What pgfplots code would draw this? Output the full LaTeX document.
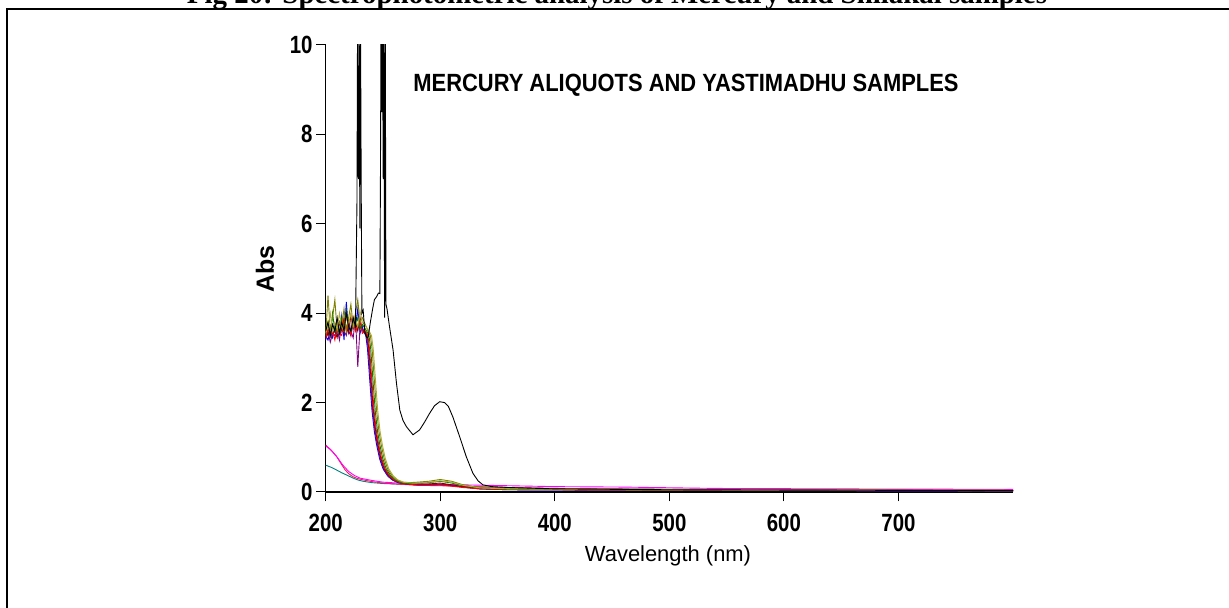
\documentclass[border=0pt]{standalone}
\usepackage{fontspec}
\usepackage{pgfplots}
\pgfplotsset{compat=1.18}
\setmainfont{Liberation Sans}
\newfontfamily\narrow[FakeStretch=0.82]{Liberation Sans}
\newfontfamily\titlefont[FakeStretch=0.88]{Liberation Sans}
\newfontfamily\capfont{Liberation Serif}
\definecolor{cblue}{RGB}{0,0,255}
\definecolor{cpurple}{RGB}{128,0,128}
\definecolor{cmaroon}{RGB}{128,0,0}
\definecolor{cred}{RGB}{255,0,0}
\definecolor{cgreen}{RGB}{0,128,0}
\definecolor{colive}{RGB}{128,128,0}
\definecolor{ckhaki}{RGB}{180,170,60}
\definecolor{ccrimson}{RGB}{240,30,80}
\definecolor{cmagenta}{RGB}{255,0,255}
\definecolor{cteal}{RGB}{0,128,128}
\begin{document}
\begin{tikzpicture}
\useasboundingbox (0,0) rectangle (1229bp,608bp);
\draw[line width=2bp] (6.7bp,0) -- (6.7bp,599bp) -- (1229bp,599bp);
\node[anchor=base, inner sep=0pt, font=\capfont\bfseries\fontsize{29}{29}\selectfont] at (617bp,604bp) {Fig 20: Spectrophotometric analysis of Mercury and Shilakal samples};
\begin{axis}[
  at={(325.7bp,116bp)}, anchor=south west,
  scale only axis, width=687.3bp, height=447bp,
  xmin=200, xmax=800, ymin=0, ymax=10,
  axis x line=bottom, axis y line=left,
  axis line style={line width=1.3bp, -},
  xtick={200,300,400,500,600,700}, ytick={0,2,4,6,8,10},
  tick align=outside, major tick length=9.5bp,
  tick style={line width=1bp, black},
  /pgf/number format/assume math mode=true,
  ticklabel style={font=\narrow\bfseries\fontsize{25}{25}\selectfont},
  yticklabel style={anchor=east, inner sep=0pt, xshift=-3.5bp},
  xticklabel style={anchor=north, inner sep=0pt, yshift=-12bp},
  every axis plot/.append style={line width=0.9bp, mark=none},
  clip=true,
]
% teal
\addplot[cteal] table {
200 0.6
205 0.55
209.6 0.49
214 0.43
218.3 0.38
224 0.31
228 0.27
232.7 0.24
240 0.21
250 0.19
270 0.17
300 0.15
340 0.11
400 0.08
500 0.06
800 0.04
};
% crimson
\addplot[ccrimson] table {
200 1.05
203 0.98
206 0.9
209.6 0.79
213 0.65
216.8 0.5
220 0.41
224 0.34
228 0.3
232.7 0.27
241 0.23
250 0.2
260 0.18
280 0.15
300 0.14
330 0.12
360 0.1
400 0.08
500 0.06
600 0.05
800 0.04
};
% magenta
\addplot[cmagenta] table {
200 1.03
205 0.93
210 0.78
215 0.6
220 0.46
225 0.37
230 0.31
240 0.26
250 0.22
270 0.19
300 0.17
340 0.15
400 0.12
460 0.11
540 0.08
700 0.065
800 0.06
};
% blue
\addplot[cblue] table {
200 3.5
202 3.4
204 3.6
206 3.45
208 3.7
210 3.5
212 3.55
214 3.95
216 3.4
218 4.25
220 3.6
222 3.5
224 3.8
226 3.7
228 4.1
230 3.55
232 3.7
233 3.6
235 3.5
236.5 3.2
238.6 2.45
240.5 1.8
242.5 1.35
244.5 1.05
247 0.75
250 0.52
254 0.36
258 0.27
263 0.21
270 0.18
280 0.16
290 0.16
300 0.17
310 0.14
320 0.11
335 0.07
360 0.05
450 0.04
600 0.03
800 0.02
};
% purple
\addplot[cpurple] table {
200 3.4
202 3.6
204 3.35
206 3.55
208 3.5
210 3.65
212 3.4
214 3.75
216 3.6
218 3.5
220 3.85
222 3.6
224 3.45
226 3.9
228 2.8
230 3.7
232 3.65
233.6 3.6
235.6 3.5
237.1 3.2
239.2 2.45
241.1 1.8
243.1 1.35
245.1 1.05
247.6 0.75
250.6 0.52
254.6 0.36
258.6 0.27
263.6 0.21
270.6 0.18
280 0.17
290 0.17
300 0.18
310 0.15
320 0.11
335 0.07
360 0.05
450 0.04
600 0.03
800 0.02
};
% maroon
\addplot[cmaroon] table {
200 3.6
202 3.5
204 3.7
206 3.55
208 3.6
210 3.45
212 3.8
214 3.6
216 3.9
218 3.7
220 3.55
222 3.95
224 3.65
226 3.8
228 3.6
230 3.9
232 3.6
234.2 3.6
236.2 3.5
237.7 3.2
239.8 2.45
241.7 1.8
243.7 1.35
245.7 1.05
248.2 0.75
251.2 0.52
255.2 0.36
259.2 0.27
264.2 0.21
271.2 0.18
280 0.18
290 0.18
300 0.2
310 0.16
320 0.12
335 0.08
360 0.06
450 0.05
600 0.04
800 0.03
};
% red
\addplot[cred] table {
200 3.45
202 3.65
204 3.5
206 3.6
208 3.4
210 3.7
212 3.55
214 3.5
216 3.85
218 3.6
220 3.75
222 3.5
224 3.9
226 3.6
228 3.7
230 3.8
232 3.55
234.8 3.6
236.8 3.5
238.3 3.2
240.4 2.45
242.3 1.8
244.3 1.35
246.3 1.05
248.8 0.75
251.8 0.52
255.8 0.36
259.8 0.27
264.8 0.21
271.8 0.18
280 0.15
290 0.15
300 0.16
310 0.13
320 0.1
335 0.07
360 0.06
450 0.05
600 0.04
800 0.04
};
% green
\addplot[cgreen] table {
200 3.6
202 3.8
204 3.5
206 4.0
208 3.6
210 3.7
212 3.55
214 3.9
216 3.6
218 4.05
220 3.7
222 3.6
224 3.85
226 3.7
228 3.9
230 3.65
232 3.75
235.8 3.6
237.8 3.5
239.3 3.2
241.4 2.45
243.3 1.8
245.3 1.35
247.3 1.05
249.8 0.75
252.8 0.52
256.8 0.36
260.8 0.27
265.8 0.21
272.8 0.19
280 0.2
290 0.21
300 0.24
310 0.2
320 0.14
335 0.09
360 0.06
450 0.05
600 0.04
800 0.03
};
% olive
\addplot[colive] table {
200 3.5
202 4.4
204 3.6
206 3.9
208 4.3
210 3.6
212 3.8
214 3.7
216 4.1
218 3.6
220 3.9
222 4.2
224 3.7
226 4.0
228 4.3
230 3.8
232 3.9
234.5 3.75
237 3.6
239 3.5
240.5 3.2
242.6 2.45
244.5 1.8
246.5 1.35
248.5 1.05
251 0.75
254 0.52
258 0.36
262 0.27
267 0.22
274 0.21
280 0.22
290 0.24
300 0.28
310 0.24
320 0.16
335 0.1
360 0.07
450 0.06
600 0.05
800 0.04
};
% khaki
\addplot[ckhaki] table {
200 3.55
202 3.7
204 4.0
206 3.6
208 3.8
210 3.65
212 4.0
214 3.7
216 3.6
218 3.9
220 3.75
222 4.0
224 3.7
226 3.85
228 3.7
230 4.05
232 3.8
235 3.7
238 3.6
240 3.5
241.5 3.2
243.6 2.45
245.5 1.8
247.5 1.35
249.5 1.05
252 0.75
255 0.52
259 0.36
263 0.27
268 0.22
275 0.2
280 0.2
290 0.22
300 0.25
310 0.22
320 0.15
335 0.09
360 0.07
450 0.05
600 0.04
800 0.03
};
% black
\addplot[black] table {
200 3.6
202 3.8
204 3.5
206 3.75
208 3.6
210 3.9
212 3.55
214 3.8
216 3.6
218 4.0
220 3.7
222 3.6
224 3.9
226 3.7
227.3 6.5
227.8 10.5
228.6 7.0
229.2 10.5
229.8 5.9
230.4 10.5
231 6.8
231.6 4.0
232.7 4.07
234.2 3.56
236 3.45
237.1 3.47
239 3.8
241 4.1
242.5 4.3
244.4 4.37
246 4.45
247.3 4.44
247.8 7.1
248.3 10.5
249 8.5
249.6 10.5
250.2 7.0
250.8 10.5
251.4 3.9
252 10.5
252.6 4.2
253.5 4.1
255.7 3.7
258.8 3.18
261.8 2.43
264.7 1.83
267.5 1.6
270.5 1.46
276.2 1.28
282 1.39
286 1.55
290.7 1.76
295 1.93
299.5 2.02
303.8 2.0
307 1.92
311 1.68
316.9 1.24
322.7 0.79
328.5 0.42
333 0.25
337.2 0.16
345 0.12
360 0.1
400 0.07
500 0.05
800 0.03
};
\end{axis}
\node[anchor=base, inner sep=0pt, font=\titlefont\bfseries\fontsize{25}{25}\selectfont] at (686bp,516bp) {MERCURY ALIQUOTS AND YASTIMADHU SAMPLES};
\node[rotate=90, inner sep=0pt, font=\bfseries\fontsize{25}{25}\selectfont] at (265bp,339bp) {Abs};
\node[anchor=base, inner sep=0pt, font=\fontsize{22}{22}\selectfont] at (668bp,46bp) {Wavelength (nm)};
\end{tikzpicture}
\end{document}
